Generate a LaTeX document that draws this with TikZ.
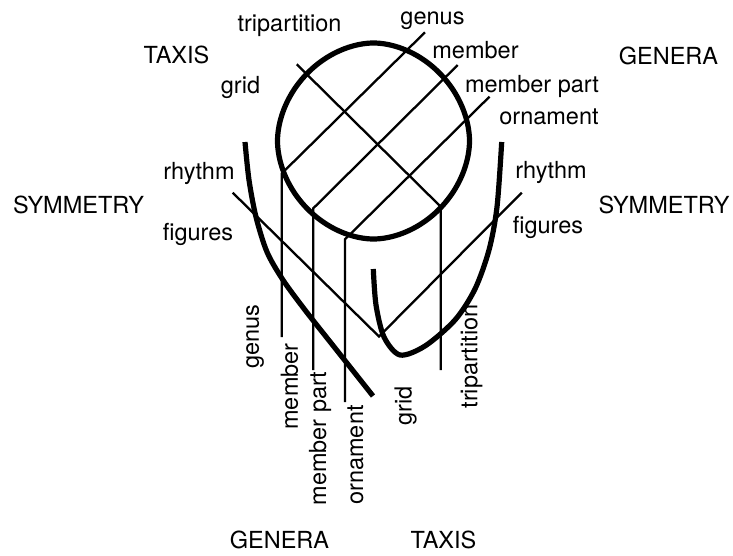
\documentclass[tikz,border=0pt]{standalone}
\usepackage{fontspec}
\setmainfont{TeX Gyre Heros}

\begin{document}
\begin{tikzpicture}[
  x=0.5pt, y=-0.5pt,
  font=\fontsize{11.75}{14}\selectfont,
  word/.style={inner sep=0pt},
  upword/.style={inner sep=0pt, rotate=90},
  rule/.style={line width=1.15pt},
  heavy/.style={line width=2.6pt}
]
\useasboundingbox (0,0) rectangle (733,556);

% outer words
\node[word] (taxisTop) at (176.5,55) {TAXIS};
\node[word] (generaTop) at (668.5,55.5) {GENERA};
\node[word] (symLeft) at (78.5,205) {SYMMETRY};
\node[word] (symRight) at (664,205) {SYMMETRY};
\node[word] (generaBot) at (279.5,540) {GENERA};
\node[word] (taxisBot) at (443.5,540) {TAXIS};

% words at the line ends
\node[word] (tripTop) at (289.5,26) {tripartition};
\node[word] (gridTop) at (240.5,87) {grid};
\node[word] (genusTop) at (432.5,20.5) {genus};
\node[word] (memberTop) at (475.5,50) {member};
\node[word] (partTop) at (532,86.5) {member part};
\node[word] (ornTop) at (549,116.5) {ornament};
\node[word] (rhythmL) at (199,173.5) {rhythm};
\node[word] (figL) at (198,234) {figures};
\node[word] (rhythmR) at (551,172) {rhythm};
\node[word] (figR) at (548,227) {figures};

\node[upword] (genusBot) at (255,336.5) {genus};
\node[upword] (memberBot) at (289.5,386.5) {member};
\node[upword] (partBot) at (320,438.5) {member part};
\node[upword] (ornBot) at (355.5,455) {ornament};
\node[upword] (gridBot) at (405.5,406) {grid};
\node[upword] (tripBot) at (471.5,356.5) {tripartition};

% the ring
\draw[heavy] plot[domain=1.5:361.5, samples=121, smooth cycle]
  ({373.5+96*cos(\x)*abs(cos(\x))^0.07}, {141+98*sin(\x)*abs(sin(\x))^0.07});

% the two arms
\draw[heavy] plot[smooth] coordinates {(245,142) (249,180) (256,217) (267,252)
  (283,280) (305,310) (335,348) (373,396)};
\draw[heavy] plot[smooth] coordinates {(373.3,269) (376,305) (384,337) (400,355)
  (425,346) (455,320) (475,289) (489,250) (497,207) (501.7,142)};

% grid lines
\coordinate (tripA) at (296.7,64.3);
\coordinate (tripB) at (440.7,206.7);
\coordinate (tripC) at (440.7,370);
\coordinate (genusA) at (425,32.3);
\coordinate (genusB) at (281.7,173.5);
\coordinate (genusC) at (281.7,337);
\coordinate (memberA) at (457.7,65);
\coordinate (memberB) at (313.3,208.3);
\coordinate (memberC) at (313.3,370);
\coordinate (partA) at (489.5,96.7);
\coordinate (partB) at (345,239.3);
\coordinate (partC) at (345,402);
\coordinate (vLeft) at (232.7,192.7);
\coordinate (vTip) at (379,336.5);
\coordinate (vRight) at (521.7,192.7);

\draw[rule] (tripA) -- (tripB) -- (tripC);
\draw[rule] (genusA) -- (genusB) -- (genusC);
\draw[rule] (memberA) -- (memberB) -- (memberC);
\draw[rule] (partA) -- (partB) -- (partC);
\draw[rule] (vLeft) -- (vTip) -- (vRight);
\end{tikzpicture}
\end{document}
